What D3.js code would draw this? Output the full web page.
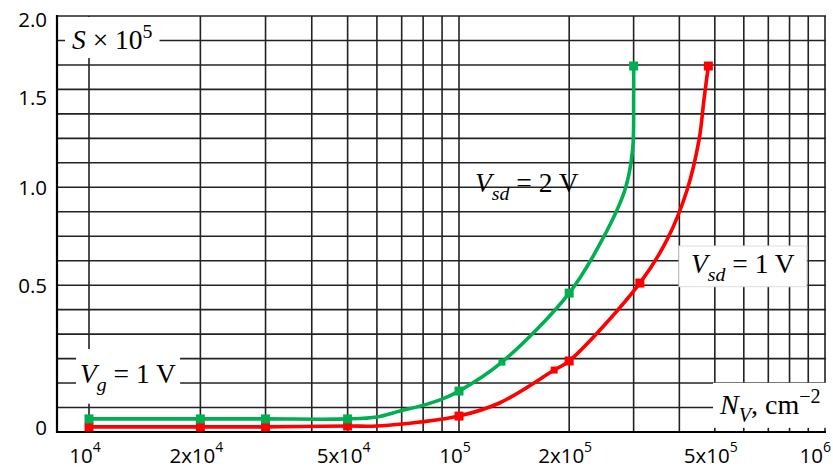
<!DOCTYPE html>
<html>
<head>
<meta charset="utf-8">
<script src="https://cdn.jsdelivr.net/npm/d3@7"></script>
<style>
  body { margin: 0; background: #fff; }
  svg text { white-space: pre; }
</style>
</head>
<body>
<svg id="chart" width="833" height="469"></svg>
<script>
// x ticks (N_V, cm^-2), log axis
const xTicks = [1e4, 2e4, 5e4, 1e5, 2e5, 5e5, 1e6];
const xTickMant = ["", "2x", "5x", "", "2x", "5x", ""];
const xTickExp = ["4", "4", "4", "5", "5", "5", "6"];

// y ticks (S x 10^5)
const yTicks = [0, 0.5, 1.0, 1.5, 2.0];
const yTickLabels = ["0", "0.5", "1.0", "1.5", "2.0"];

// V_sd = 2 V (green)
const greenN = [1e4, 2e4, 3e4, 5e4, 6.0e4, 6.93e4, 7.85e4, 8.89e4, 1e5, 1.31e5, 2e5, 2.46e5, 2.84e5, 2.98e5, 3.0e5, 3.0e5];
const greenS = [0.032, 0.032, 0.032, 0.032, 0.039, 0.060, 0.077, 0.099, 0.130, 0.232, 0.475, 0.735, 0.99, 1.21, 1.49, 1.705];
const greenMarkN = [1e4, 2e4, 3e4, 5e4, 1e5, 2e5, 3.0e5];
const greenMarkS = [0.032, 0.032, 0.032, 0.032, 0.130, 0.475, 1.705];
const greenMiniN = [1.31e5];
const greenMiniS = [0.232];

// V_sd = 1 V (red)
const redN = [1e4, 2e4, 3e4, 5e4, 6.0e4, 7.85e4, 1e5, 1.29e5, 1.82e5, 2e5, 3.12e5, 3.70e5, 4.2e5, 4.53e5, 4.67e5, 4.8e5];
const redS = [0.004, 0.004, 0.004, 0.007, 0.007, 0.021, 0.042, 0.088, 0.204, 0.236, 0.515, 0.735, 0.99, 1.27, 1.49, 1.705];
const redMarkN = [1e4, 2e4, 3e4, 5e4, 1e5, 2e5, 3.12e5, 4.8e5];
const redMarkS = [0.004, 0.004, 0.004, 0.007, 0.042, 0.236, 0.515, 1.705];
const redMiniN = [1.82e5];
const redMiniS = [0.204];

const svg = d3.select("#chart");
const plotL = 57, plotR = 826, plotT = 16, plotB = 432;

// the paper grid is not quite linear in S, so map the tick values piecewise
const x = d3.scaleLog().domain([1e4, 1e5, 1e6]).range([89, 459, 825]);
const y = d3.scaleLinear().domain(yTicks).range([428, 286, 188, 98, 20]);
// evenly spaced horizontal rulings
const gridY = d3.scaleLinear().domain([0, 17]).range([plotB, plotT]);

const grid = svg.append("g").attr("stroke", "#222").attr("stroke-width", 1.6);

grid.selectAll(".hline")
  .data(d3.range(18))
  .enter().append("line")
  .attr("x1", plotL).attr("x2", plotR)
  .attr("y1", d => gridY(d)).attr("y2", d => gridY(d));

grid.selectAll(".vline")
  .data(x.ticks())
  .enter().append("line")
  .attr("x1", d => x(d)).attr("x2", d => x(d))
  .attr("y1", plotT).attr("y2", plotB);

// axes
svg.append("line").attr("x1", plotL).attr("x2", plotL).attr("y1", plotT - 1).attr("y2", plotB + 1)
  .attr("stroke", "#000").attr("stroke-width", 2.2);
svg.append("line").attr("x1", plotL).attr("x2", plotR).attr("y1", plotB).attr("y2", plotB)
  .attr("stroke", "#000").attr("stroke-width", 2.2);

// y tick labels
svg.selectAll(".ylab")
  .data(yTicks)
  .enter().append("text")
  .attr("x", 47).attr("y", d => y(d)).attr("dy", "0.36em")
  .attr("text-anchor", "end")
  .style("font-family", "'Open Sans', sans-serif").style("font-size", "20.5px")
  .text((d, i) => yTickLabels[i]);

// x tick labels
xTicks.forEach((v, i) => {
  const t = svg.append("text")
    .attr("x", x(v) - 4).attr("y", 463)
    .attr("text-anchor", "middle")
    .style("font-family", "'Open Sans', sans-serif").style("font-size", "20.5px");
  t.append("tspan").text(xTickMant[i] + "10");
  t.append("tspan").attr("dy", -11).style("font-size", "14px").text(xTickExp[i]);
  const bb = t.node().getBBox();
  if (bb.x + bb.width > 831) t.attr("x", x(v) - 4 - (bb.x + bb.width - 831));
});

// math style labels
function mathText(px, py, parts, size, box) {
  const g = svg.append("g");
  const t = g.append("text").attr("x", px).attr("y", py)
    .style("font-family", "'Liberation Serif', 'Times New Roman', serif")
    .style("font-size", size + "px");
  let shift = 0;
  parts.forEach(p => {
    const target = p.sub ? size * 0.28 : p.sup ? -size * 0.4 : 0;
    t.append("tspan")
      .attr("dy", target - shift)
      .style("font-style", p.it ? "italic" : "normal")
      .style("font-size", (p.sub || p.sup) ? (size * 0.72) + "px" : null)
      .text(p.t);
    shift = target;
  });
  if (box) {
    const bb = t.node().getBBox();
    g.insert("rect", "text")
      .attr("x", bb.x - box[0]).attr("y", bb.y - box[1])
      .attr("width", bb.width + 2 * box[0]).attr("height", bb.height + 2 * box[1])
      .attr("fill", "#fff")
      .attr("stroke", box[2] ? "#ddd" : "none");
  }
}

mathText(72, 49, [{t: "S", it: 1}, {t: " × 10"}, {t: "5", sup: 1}], 27.5, [7, 3]);
mathText(80, 383, [{t: "V", it: 1}, {t: "g", it: 1, sub: 1}, {t: " = 1 V"}], 27.5, [4, 9]);
mathText(475, 192, [{t: "V", it: 1}, {t: "sd", it: 1, sub: 1}, {t: " = 2 V"}], 27.5, null);
mathText(691, 273, [{t: "V", it: 1}, {t: "sd", it: 1, sub: 1}, {t: " = 1 V"}], 27.5, [12, 2, 1]);
mathText(720, 414, [{t: "N", it: 1}, {t: "V", it: 1, sub: 1}, {t: ", cm"}, {t: "−2", sup: 1}], 28, [6, 2]);

// curves
const line = d3.line()
  .x(d => x(d[0])).y(d => y(d[1]))
  .curve(d3.curveCatmullRom.alpha(0.5));

function drawSeries(N, S, markN, markS, miniN, miniS, color) {
  svg.append("path")
    .datum(N.map((n, i) => [n, S[i]]))
    .attr("d", line)
    .attr("fill", "none").attr("stroke", color).attr("stroke-width", 3.6);
  svg.selectAll(null)
    .data(markN.map((n, i) => [n, markS[i]]))
    .enter().append("rect")
    .attr("x", d => x(d[0]) - 4.5).attr("y", d => y(d[1]) - 4.5)
    .attr("width", 9).attr("height", 9)
    .attr("fill", color);
  svg.selectAll(null)
    .data(miniN.map((n, i) => [n, miniS[i]]))
    .enter().append("rect")
    .attr("x", d => x(d[0]) - 3.5).attr("y", d => y(d[1]) - 3.5)
    .attr("width", 7).attr("height", 7)
    .attr("fill", color);
}

drawSeries(redN, redS, redMarkN, redMarkS, redMiniN, redMiniS, "#ff0000");
drawSeries(greenN, greenS, greenMarkN, greenMarkS, greenMiniN, greenMiniS, "#00b050");
</script>
</body>
</html>
